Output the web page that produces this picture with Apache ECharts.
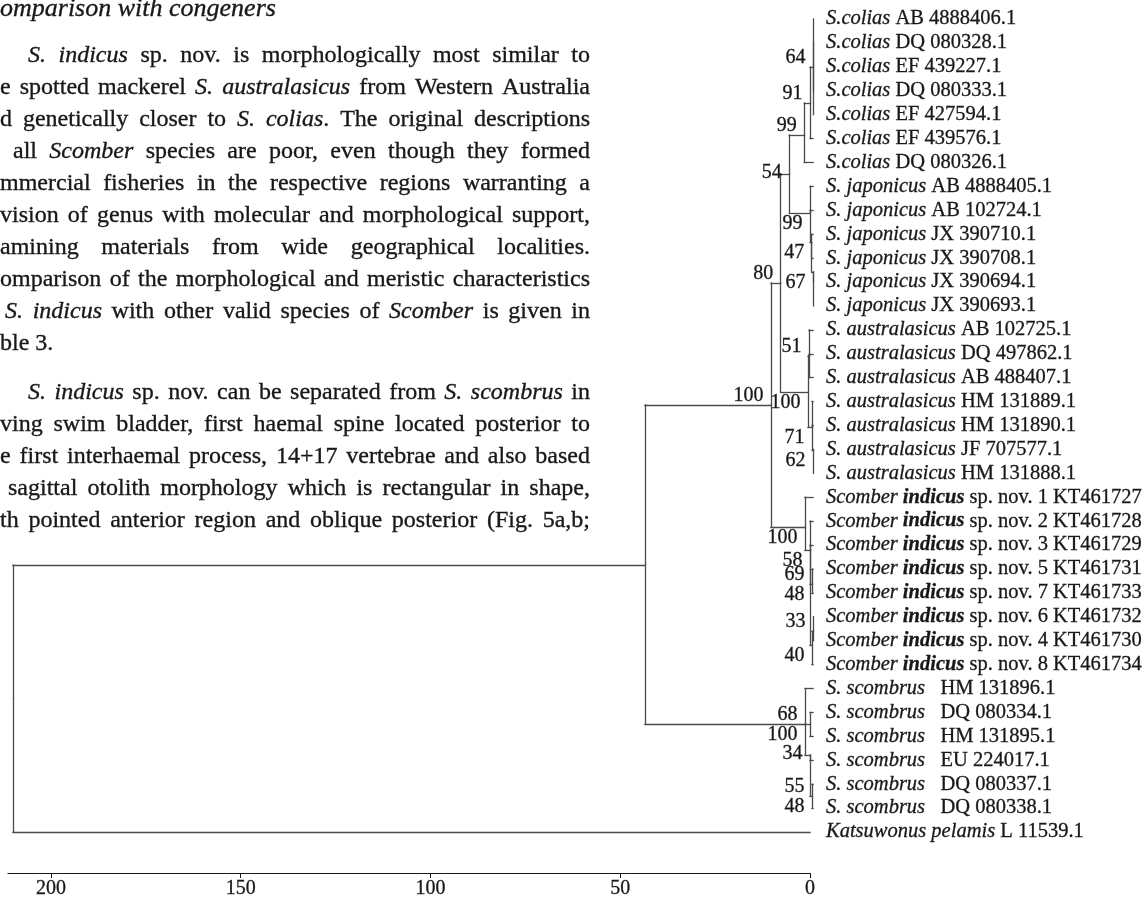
<!DOCTYPE html>
<html><head><meta charset="utf-8">
<script src="https://cdn.jsdelivr.net/npm/echarts@6/dist/echarts.min.js"></script>
<style>html,body{margin:0;padding:0;background:#fff;}#c{width:1146px;height:898px;}</style>
</head><body><div id="c"></div>
<script>
// ---------- tree data ----------
const taxaItalic = ['S.colias','S.colias','S.colias','S.colias','S.colias','S.colias','S.colias',
  'S. japonicus','S. japonicus','S. japonicus','S. japonicus','S. japonicus','S. japonicus',
  'S. australasicus','S. australasicus','S. australasicus','S. australasicus','S. australasicus','S. australasicus','S. australasicus',
  'Scomber','Scomber','Scomber','Scomber','Scomber','Scomber','Scomber','Scomber',
  'S. scombrus','S. scombrus','S. scombrus','S. scombrus','S. scombrus','S. scombrus',
  'Katsuwonus pelamis'];
const taxaBold = ['','','','','','','','','','','','','','','','','','','','',
  'indicus','indicus','indicus','indicus','indicus','indicus','indicus','indicus',
  '','','','','','',''];
const taxaPlain = ['AB 4888406.1','DQ 080328.1','EF 439227.1','DQ 080333.1','EF 427594.1','EF 439576.1','DQ 080326.1',
  'AB 4888405.1','AB 102724.1','JX 390710.1','JX 390708.1','JX 390694.1','JX 390693.1',
  'AB 102725.1','DQ 497862.1','AB 488407.1','HM 131889.1','HM 131890.1','JF 707577.1','HM 131888.1',
  'sp. nov. 1 KT461727','sp. nov. 2 KT461728','sp. nov. 3 KT461729','sp. nov. 5 KT461731','sp. nov. 7 KT461733','sp. nov. 6 KT461732','sp. nov. 4 KT461730','sp. nov. 8 KT461734',
  '\u00a0\u00a0HM 131896.1','\u00a0\u00a0DQ 080334.1','\u00a0\u00a0HM 131895.1','\u00a0\u00a0EU 224017.1','\u00a0\u00a0DQ 080337.1','\u00a0\u00a0DQ 080338.1',
  'L 11539.1'];
// leaf i sits on row i
const leafParent = ['C64','C64','C64','C64','C64','C91','C99',
  'J99','J99','J47','J47','J67','J67',
  'AU51','AU51','AU51','AU71','AU71','AU62','AU62',
  'I100','I58','I58','I69','I69','I33','I33','I40',
  'B','SC68','SC68','SC34','SC55','SC55',
  'R'];
const leafDepth = [-0.8,-0.8,-0.8,-0.8,-0.8,-0.8,-0.8,-0.8,-0.8,-0.8,-0.8,-0.8,-0.8,-0.8,-0.8,-0.8,-0.8,-0.8,
  -0.8,-0.8,-0.8,-0.8,-0.8,-0.8,-0.8,-0.8,-0.8,-0.8,-0.8,-0.8,-0.8,-0.8,-0.8,-0.8,0];
const nodeId     = ['R','S','A','N80','N54','C99','C91','C64','J99','J47','J67','AU100','AU51','AU71','AU62','I100','I58','I69','I40','I33','B','SC68','SC34','SC55'];
const nodeParent = [null,'R','S','A','N80','N54','C99','C91','N54','J99','J47','N80','AU100','AU100','AU71','A','I100','I58','I58','I40','S','B','B','SC34'];
const nodeDepth  = [210,43.5,10.3,7.73,5.46,1.5,0,-0.8,0,-0.45,-0.8,0.53,0.26,-0.53,-0.8,1.32,0,-0.5,-0.5,-0.8,1.32,0,0,-0.5];
const nodeRow    = [28.4,22.84,16.14,11.04,6.48,4.85,3.51,2.01,8.11,9.33,10.58,15.6,14.09,17.06,18.03,21.25,22.21,23.63,26.18,25.6,29.49,29.49,30.78,32.5];
// bootstrap support values
const supportNode  = ['C64','C91','C99','N54','J99','J47','J67','N80','A','AU51','AU100','AU71','AU62','I100','I58','I69','I69','I33','I40','B','B','SC34','SC55','SC55'];
const supportText  = ['64','91','99','54','99','47','67','80','100','51','100','71','62','100','58','69','48','33','40','68','100','34','55','48'];
const supportPlace = ['above','above','above','middle','below','below','below','above','above','above','below','below','below','below','below','above','below','above','below','above','below','middle','above','below'];
const xTicks = [0, 50, 100, 150, 200];

// ---------- page text ----------
const titleLine = '_omparison with congeners_';
const para1 = [
 '_S. indicus_ sp. nov. is morphologically most similar to',
 'e spotted mackerel _S. australasicus_ from Western Australia',
 'd genetically closer to _S. colias_. The original descriptions',
 'all _Scomber_ species are poor, even though they formed',
 'mmercial fisheries in the respective regions warranting a',
 'vision of genus with molecular and morphological support,',
 'amining materials from wide geographical localities.',
 'omparison of the morphological and meristic characteristics',
 '_S. indicus_ with other valid species of _Scomber_ is given in',
 'ble 3.'
];
const para1Start = [28,0,0,13,0,0,0,0,5,0];
const para2 = [
 '_S. indicus_ sp. nov. can be separated from _S. scombrus_ in',
 'ving swim bladder, first haemal spine located posterior to',
 'e first interhaemal process, 14+17 vertebrae and also based',
 'sagittal otolith morphology which is rectangular in shape,',
 'th pointed anterior region and oblique posterior (Fig. 5a,b;'
];
const para2Start = [28,0,0,8,0];

const INK = '#1a1718';
const SERIF = '"Liberation Serif", "Times New Roman", serif';
const RIGHT = 590, LEAD = 32;

const cv = document.createElement('canvas').getContext('2d');
function fontOf(it, size){ return (it ? 'italic ' : '') + size + 'px ' + SERIF; }
function measure(t, it, size){ cv.font = fontOf(it, size); return cv.measureText(t).width; }
function parseWords(line){
  const words = []; let cur = []; let it = false; let buf = '';
  const flush = () => { if (buf) { cur.push({t: buf, it}); buf = ''; } };
  for (const ch of line) {
    if (ch === '_') { flush(); it = !it; }
    else if (ch === ' ') { flush(); if (cur.length) { words.push(cur); cur = []; } }
    else buf += ch;
  }
  flush(); if (cur.length) words.push(cur);
  return words;
}
const graphics = [];
function layLine(line, x0, baseline, justify, size){
  const words = parseWords(line);
  const widths = words.map(w => w.reduce((s, r) => s + measure(r.t, r.it, size), 0));
  const total = widths.reduce((a, b) => a + b, 0);
  const gap = (justify && words.length > 1) ? (RIGHT - x0 - total) / (words.length - 1) : measure(' ', false, size);
  let x = x0;
  words.forEach((w, i) => {
    let xx = x;
    w.forEach(r => {
      graphics.push({type: 'text', x: xx, y: baseline - 0.305 * size, silent: true,
        style: {text: r.t, font: fontOf(r.it, size), fill: INK, stroke: INK, lineWidth: 0.35,
                textAlign: 'left', align: 'left', textVerticalAlign: 'middle', verticalAlign: 'middle'}});
      xx += measure(r.t, r.it, size);
    });
    x += widths[i] + gap;
  });
}
layLine(titleLine, 0, 17, false, 26);
para1.forEach((l, i) => layLine(l, para1Start[i], 63 + LEAD * i, i < para1.length - 1, 24));
para2.forEach((l, i) => layLine(l, para2Start[i], 400 + LEAD * i, true, 24));

// ---------- build tree segments ----------
const idx = {}; nodeId.forEach((id, i) => idx[id] = i);
const segs = [];
function addChild(pi, d, r){
  segs.push({coords: [[nodeDepth[pi], nodeRow[pi]], [nodeDepth[pi], r]]});
  segs.push({coords: [[nodeDepth[pi], r], [d, r]]});
}
nodeId.forEach((id, i) => { if (nodeParent[i] !== null) addChild(idx[nodeParent[i]], nodeDepth[i], nodeRow[i]); });
leafParent.forEach((p, i) => addChild(idx[p], leafDepth[i], i));

const supportData = supportNode.map((n, k) => {
  const i = idx[n], pl = supportPlace[k];
  return {value: [nodeDepth[i], nodeRow[i]], name: supportText[k],
    label: {position: [-7, pl === 'middle' ? -1 : 1], align: 'right',
            verticalAlign: pl === 'above' ? 'bottom' : (pl === 'below' ? 'top' : 'middle')}};
});

const thin = {textBorderColor: INK, textBorderWidth: 0.3};
const rich = {
  i: Object.assign({fontFamily: SERIF, fontSize: 20.5, fontStyle: 'italic', color: INK}, thin),
  b: Object.assign({fontFamily: SERIF, fontSize: 20.5, fontStyle: 'italic', fontWeight: 'bold', color: INK}, thin),
  n: Object.assign({fontFamily: SERIF, fontSize: 20.5, color: INK}, thin)
};

const chart = echarts.init(document.getElementById('c'));
chart.setOption({
  animation: false,
  backgroundColor: '#fff',
  grid: {left: 8, right: 336, top: 19, bottom: 66, containLabel: false, outerBoundsMode: 'none'},
  xAxis: {type: 'value', inverse: true, min: 0, max: 211.3, position: 'bottom', offset: 41,
    splitLine: {show: false},
    axisLine: {show: true, onZero: false, lineStyle: {color: INK, width: 1.2}},
    axisTick: {show: true, length: 5, customValues: xTicks, lineStyle: {color: INK, width: 1}},
    axisLabel: Object.assign({customValues: xTicks, margin: 6, fontFamily: SERIF, fontSize: 20, color: INK}, thin)},
  yAxis: [
    {type: 'value', inverse: true, min: 0, max: 34, show: false},
    {type: 'category', inverse: true, position: 'right', boundaryGap: false,
      data: taxaItalic.map((t, i) => t + ' ' + (taxaBold[i] ? taxaBold[i] + ' ' : '') + taxaPlain[i]),
      axisLine: {show: false}, axisTick: {show: false}, splitLine: {show: false},
      axisLabel: {interval: 0, margin: 16, align: 'left', fontFamily: SERIF, fontSize: 20.5, color: INK,
        formatter: (v, i) => '{i|' + taxaItalic[i] + '}' + (taxaBold[i] ? ' {b|' + taxaBold[i] + '}' : '') + ' {n|' + taxaPlain[i] + '}',
        rich: rich}}
  ],
  series: [
    {type: 'lines', coordinateSystem: 'cartesian2d', xAxisIndex: 0, yAxisIndex: 0, clip: false, silent: true,
      lineStyle: {color: '#4a4a4a', width: 1.3, opacity: 1, cap: 'square'}, data: segs},
    {type: 'scatter', xAxisIndex: 0, yAxisIndex: 0, clip: false, silent: true, symbolSize: 1,
      itemStyle: {color: 'rgba(0,0,0,0)'},
      label: Object.assign({show: true, formatter: p => p.name, fontFamily: SERIF, fontSize: 20, color: INK, opacity: 1}, thin),
      labelLayout: {hideOverlap: false},
      data: supportData}
  ],
  graphic: graphics
});
</script>
</body></html>
